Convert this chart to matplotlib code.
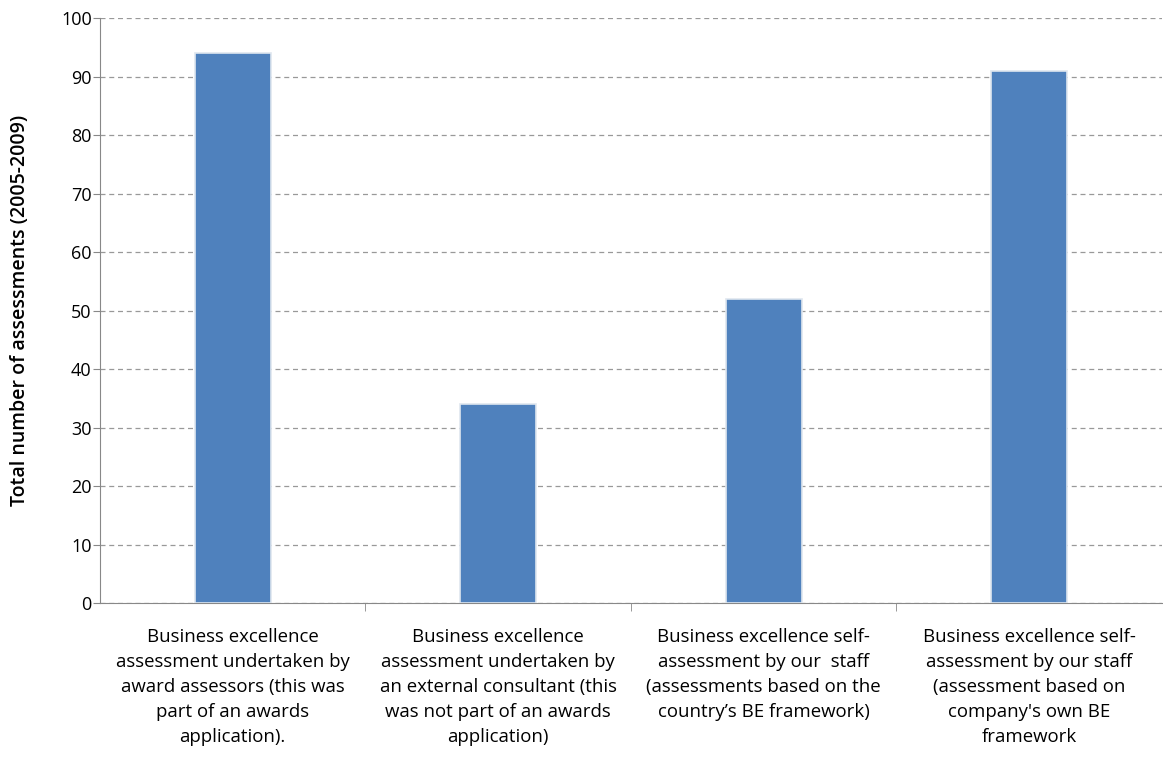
import matplotlib.pyplot as plt
import numpy as np

# data
categories = [
    "Business excellence\nassessment undertaken by\naward assessors (this was\npart of an awards\napplication).",
    "Business excellence\nassessment undertaken by\nan external consultant (this\nwas not part of an awards\napplication)",
    "Business excellence self-\nassessment by our  staff\n(assessments based on the\ncountry\u2019s BE framework)",
    "Business excellence self-\nassessment by our staff\n(assessment based on\ncompany's own BE\nframework",
]
values = [94, 34, 52, 91]
yticks = [0, 10, 20, 30, 40, 50, 60, 70, 80, 90, 100]

plt.rcParams['font.family'] = ['Open Sans', 'DejaVu Sans']

fig = plt.figure(figsize=(11.63, 7.64), dpi=100)
ax = fig.add_axes([0.086, 0.2107, 0.913, 0.7657])

x = np.arange(len(values))
ax.bar(x, values, width=0.286, color='#4f81bd', edgecolor='#dfe6ef', linewidth=1.2, zorder=3)

ax.set_xlim(-0.5, len(values) - 0.5)
ax.set_ylim(0, 100)
ax.set_yticks(yticks)
ax.tick_params(axis='y', labelsize=13, length=5, color='#888888', pad=1)
ax.yaxis.grid(True, linestyle=(0, (4, 3)), color='#999999', linewidth=0.9, zorder=0)

ax.set_xticks(x)
ax.set_xticklabels(categories, fontsize=13.4, linespacing=1.5)
ax.tick_params(axis='x', length=0, pad=18)
ax.set_xticks(x[:-1] + 0.5, minor=True)
ax.tick_params(axis='x', which='minor', length=6, color='#888888')

for s in ['top', 'right']:
    ax.spines[s].set_visible(False)
for s in ['left', 'bottom']:
    ax.spines[s].set_color('#888888')

ax.set_ylabel("Total number of assessments (2005-2009)", fontsize=14, fontweight='semibold')
ax.yaxis.set_label_coords(-0.066, 0.5)

fig.savefig('out.png', dpi=100)
